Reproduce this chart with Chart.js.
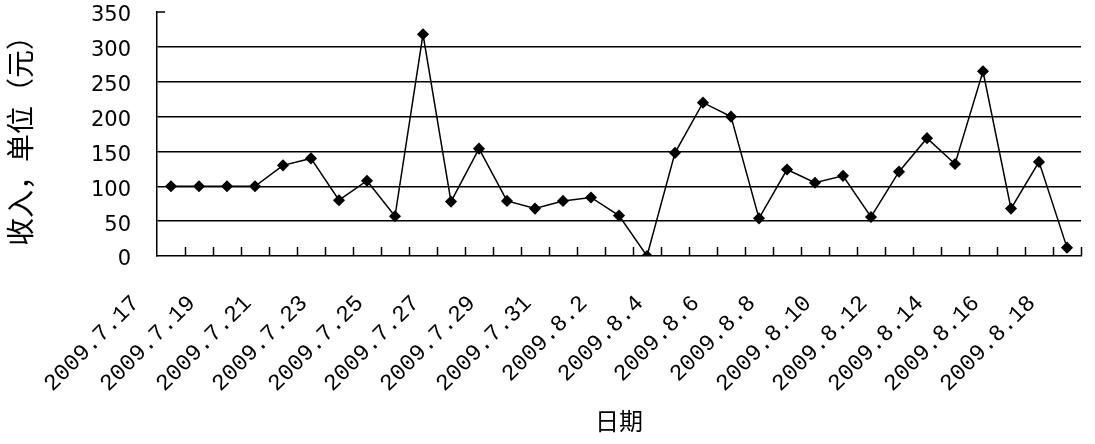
<!DOCTYPE html>
<html>
<head>
<meta charset="utf-8">
<script src="https://cdn.jsdelivr.net/npm/chart.js@4"></script>
<style>
  html, body { margin: 0; padding: 0; background: #fff; }
  #wrap { width: 1095px; height: 444px; }
</style>
</head>
<body>
<div id="wrap"><canvas id="incomeChart" width="1095" height="444"></canvas></div>
<script>
// 日期
const dates = [
    "2009.7.17", "2009.7.18", "2009.7.19", "2009.7.20", "2009.7.21", "2009.7.22",
    "2009.7.23", "2009.7.24", "2009.7.25", "2009.7.26", "2009.7.27", "2009.7.28",
    "2009.7.29", "2009.7.30", "2009.7.31", "2009.8.1", "2009.8.2", "2009.8.3",
    "2009.8.4", "2009.8.5", "2009.8.6", "2009.8.7", "2009.8.8", "2009.8.9",
    "2009.8.10", "2009.8.11", "2009.8.12", "2009.8.13", "2009.8.14", "2009.8.15",
    "2009.8.16", "2009.8.17", "2009.8.18"
];

// 收入（元）
const income = [
    100, 100, 100, 100, 130, 140, 80, 108, 57, 318, 78,
    154, 79, 68, 79, 84, 58, 0, 148, 220, 200, 54,
    124, 105, 115, 56, 121, 169, 132, 265, 68, 135, 12
];

const yTicks = [0, 50, 100, 150, 200, 250, 300, 350];

const numFont = "'DejaVu Sans', sans-serif";
const cjkFont = "'Noto Sans CJK SC', sans-serif";

// 内向きの目盛り線
const innerTicks = {
    id: "innerTicks",
    afterDraw(chart) {
        const ctx = chart.ctx;
        const x = chart.scales.x;
        const y = chart.scales.y;
        const n = dates.length;
        const step = (x.right - x.left) / n;
        ctx.save();
        ctx.strokeStyle = "#000";
        ctx.lineWidth = 1.5;
        ctx.beginPath();
        for (let i = 1; i <= n; i++) {
            const px = Math.round(x.left + i * step) + 0.5;
            ctx.moveTo(px, y.bottom);
            ctx.lineTo(px, y.bottom - 9);
        }
        const top = y.getPixelForValue(350);
        ctx.moveTo(y.right, top);
        ctx.lineTo(y.right + 8, top);
        ctx.stroke();
        ctx.restore();
    }
};

new Chart(document.getElementById("incomeChart"), {
    type: "line",
    data: {
        labels: dates,
        datasets: [{
            data: income,
            borderColor: "#000",
            borderWidth: 1.5,
            backgroundColor: "#000",
            pointStyle: "rectRot",
            pointRadius: 5,
            pointBackgroundColor: "#000",
            pointBorderColor: "#000",
            tension: 0,
            fill: false
        }]
    },
    options: {
        responsive: false,
        animation: false,
        layout: { padding: { top: 12, right: 14, bottom: 0, left: 0 } },
        plugins: {
            legend: { display: false },
            tooltip: { enabled: false }
        },
        scales: {
            x: {
                offset: true,
                grid: { display: true, drawOnChartArea: false, drawTicks: false },
                border: { display: true, color: "#000", width: 1.5 },
                ticks: {
                    autoSkip: false,
                    minRotation: 45,
                    maxRotation: 45,
                    padding: 34,
                    labelOffset: -35,
                    color: "#000",
                    font: { family: "'Liberation Mono', monospace", size: 23 },
                    callback: (val, i) => (i % 2 === 0 ? dates[i] : "")
                },
                title: {
                    display: true,
                    text: "日期",
                    color: "#000",
                    font: { family: cjkFont, size: 24 },
                    padding: { top: 0, bottom: 9 }
                },
                afterFit(scale) {
                    scale.height = 188;
                    scale.paddingLeft = 0;
                    scale.paddingRight = 0;
                }
            },
            y: {
                min: 0,
                max: 350,
                afterBuildTicks(scale) { scale.ticks = yTicks.map(v => ({ value: v })); },
                grid: {
                    drawTicks: false,
                    color: c => (c.tick && (c.tick.value === 350 || c.tick.value === 0) ? "rgba(0,0,0,0)" : "#000"),
                    lineWidth: 1.5
                },
                border: { display: true, color: "#000", width: 1.5 },
                ticks: {
                    padding: 26,
                    labelOffset: 4,
                    color: "#000",
                    font: { family: numFont, size: 21 }
                },
                title: {
                    display: true,
                    text: "收入，单位（元）",
                    color: "#000",
                    font: { family: cjkFont, size: 28 },
                    padding: { top: 4, bottom: 0 }
                },
                afterFit(scale) {
                    scale.width = 157;
                    scale.paddingTop = 0;
                    scale.paddingBottom = 0;
                }
            }
        }
    },
    plugins: [innerTicks]
});
</script>
</body>
</html>
